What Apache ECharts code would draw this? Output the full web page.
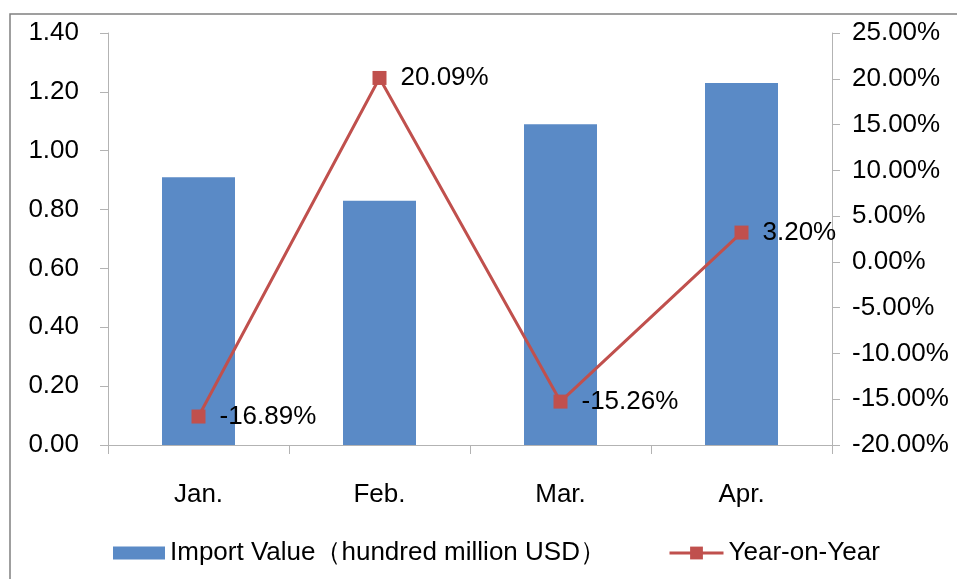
<!DOCTYPE html>
<html>
<head>
<meta charset="utf-8">
<script src="https://cdn.jsdelivr.net/npm/echarts@6/dist/echarts.min.js"></script>
<style>
    html, body { margin: 0; padding: 0; background: #fff; }
    #main { width: 957px; height: 579px; }
</style>
</head>
<body>
<div id="main"></div>
<script>
// 月份与数值
var months = ['Jan.', 'Feb.', 'Mar.', 'Apr.'];
var importValue = [0.91, 0.83, 1.09, 1.23];
var yoy = [-16.89, 20.09, -15.26, 3.20];
var barName = 'Import Value（hundred million USD）';
var lineName = 'Year-on-Year';

var font = 'Liberation Sans, Arial, sans-serif';
var axisGray = '#b3b3b3';
var lineRed = '#c0504d';
var fontSize = 26;

var chart = echarts.init(document.getElementById('main'));
var legendText = {fontSize: fontSize, color: '#000', fontFamily: font};
var option = {
    animation: false,
    textStyle: {fontFamily: font},
    graphic: [{
        type: 'rect',
        shape: {x: 10, y: 14, width: 960, height: 580},
        style: {fill: 'none', stroke: '#808080', lineWidth: 1.5},
        silent: true
    }],
    legend: [
        {
            top: 535,
            left: 108,
            itemWidth: 52,
            itemHeight: 13,
            textStyle: legendText,
            data: [{name: barName, icon: 'rect'}]
        },
        {
            top: 535,
            left: 663,
            itemWidth: 54,
            itemHeight: 16,
            textStyle: legendText,
            data: [{
                name: lineName,
                lineStyle: {width: 3, color: lineRed},
                itemStyle: {color: lineRed}
            }]
        }
    ],
    grid: {
        left: 108,
        right: 125,
        top: 33,
        bottom: 134,
        containLabel: false
    },
    xAxis: {
        type: 'category',
        data: months,
        axisLine: {lineStyle: {color: axisGray}},
        axisTick: {show: true, length: 9, lineStyle: {color: axisGray}},
        axisLabel: {color: '#000', fontSize: fontSize, margin: 37}
    },
    yAxis: [
        {
            type: 'value',
            min: 0,
            max: 1.4,
            interval: 0.2,
            axisLine: {show: true, lineStyle: {color: axisGray}},
            axisTick: {show: true, length: 8, lineStyle: {color: axisGray}},
            splitLine: {show: false},
            axisLabel: {
                color: '#000',
                fontSize: fontSize,
                margin: 29,
                formatter: function (v) { return v.toFixed(2); }
            }
        },
        {
            type: 'value',
            min: -20,
            max: 25,
            interval: 5,
            axisLine: {show: true, lineStyle: {color: axisGray}},
            axisTick: {show: true, length: 8, lineStyle: {color: axisGray}},
            splitLine: {show: false},
            axisLabel: {
                color: '#000',
                fontSize: fontSize,
                margin: 20,
                formatter: function (v) { return v.toFixed(2) + '%'; }
            }
        }
    ],
    series: [
        {
            name: barName,
            type: 'bar',
            data: importValue,
            barWidth: 73,
            itemStyle: {color: '#5a8ac6'}
        },
        {
            name: lineName,
            type: 'line',
            yAxisIndex: 1,
            data: yoy,
            symbol: 'rect',
            symbolSize: 14,
            lineStyle: {color: lineRed, width: 3},
            itemStyle: {color: lineRed},
            label: {
                show: true,
                position: 'right',
                distance: 14,
                color: '#000',
                fontSize: fontSize,
                formatter: function (p) { return p.value.toFixed(2) + '%'; }
            }
        }
    ]
};
chart.setOption(option);
</script>
</body>
</html>
